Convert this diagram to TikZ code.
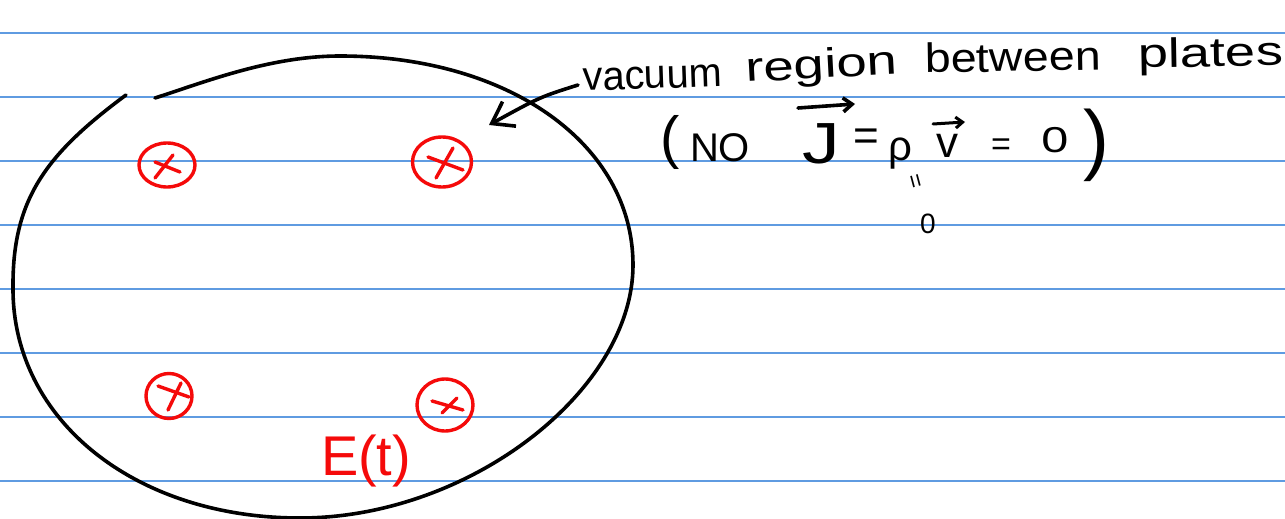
\documentclass[tikz,border=0pt]{standalone}
\usepackage{fontspec}
\setmainfont{Liberation Sans}
\usetikzlibrary{arrows.meta,shapes.geometric,calc}
\definecolor{ruleblue}{RGB}{95,155,225}
\definecolor{redpen}{RGB}{245,10,10}
\newcommand{\hwword}[2]{\resizebox{#1pt}{\height}{#2}}
\tikzset{
  ruleline/.style={draw=ruleblue, line width=1.6pt},
  pen/.style={draw=black, line width=3.6pt, line cap=round, line join=round},
  redstroke/.style={draw=redpen, line width=3.4pt, line cap=round},
  fluxsym/.style={ellipse, draw=redpen, line width=3.4pt, inner sep=0pt},
  hand/.style={font=\fontsize{41}{48}\selectfont, inner sep=0pt, text=black},
  eqtxt/.style={inner sep=0pt, text=black},
  redtxt/.style={inner sep=0pt, text=redpen},
}
\begin{document}
\begin{tikzpicture}[x=1pt,y=-1pt]
\useasboundingbox (0,0) rectangle (1285,519);
\fill[white] (0,0) rectangle (1285,519);
% ruled paper
\foreach \yy in {33,97,161,225,289,353,417,481}
  \draw[ruleline] (0,\yy) -- (1285,\yy);

% the closed curve with a small gap at the upper left
\draw[pen] (126,95) .. controls (45,155) and (12,200) .. (13,289)
  .. controls (13,420) and (135,518) .. (300,518)
  .. controls (470,518) and (633,390) .. (633,265)
  .. controls (633,145) and (510,56) .. (340,56)
  .. controls (270,56) and (205,82) .. (155,98);

% red symbols
\node[fluxsym, minimum width=56pt, minimum height=44pt] (s1) at (167,165) {};
\node[fluxsym, minimum width=59pt, minimum height=50pt] (s2) at (442,162) {};
\node[fluxsym, minimum width=46pt, minimum height=45pt] (s3) at (169,396) {};
\node[fluxsym, minimum width=56pt, minimum height=52pt] (s4) at (445,405) {};
\draw[redstroke] ($(s1)+(6,-10)$) -- ($(s1)+(-12,13)$);
\draw[redstroke] ($(s1)+(-12,-3)$) -- ($(s1)+(13,7)$);
\draw[redstroke] ($(s2)+(11,-14)$) -- ($(s2)+(-6,16)$);
\draw[redstroke] ($(s2)+(-14,-5)$) -- ($(s2)+(21,8)$);
\draw[redstroke] ($(s3)+(12,-13)$) -- ($(s3)+(-1,14)$);
\draw[redstroke] ($(s3)+(-11,-10)$) -- ($(s3)+(20,1)$);
\draw[redstroke] ($(s4)+(12,-7)$) -- ($(s4)+(-3,8)$);
\draw[redstroke] ($(s4)+(-13,-4)$) -- ($(s4)+(18,5)$);

\node[redtxt, font=\fontsize{56}{60}\selectfont] (Et) at (366,461) {\resizebox{90pt}{\height}{E(t)}};

% label and arrow
\node[hand, anchor=base west, rotate=2] (wvac) at (583,91) {\hwword{139}{vacuum}};
\node[hand, anchor=base west, rotate=3] (wreg) at (746,82) {\hwword{152}{region}};
\node[hand, anchor=base west, rotate=1] (wbet) at (925,73) {\hwword{176}{between}};
\node[hand, anchor=base west, rotate=1] (wpla) at (1138,68) {\hwword{145}{plates}};

\coordinate (arrowstart) at (578,85);
\coordinate (arrowtip) at (489,125);
\draw[pen, -{Straight Barb[length=20pt,width=28pt]}] (arrowstart) .. controls (540,97) .. (arrowtip);

% equation
\node[eqtxt, font=\fontsize{58}{60}\selectfont] (lpar) at (670,142) {(};
\node[eqtxt, font=\fontsize{40}{40}\selectfont] (NO) at (720,148) {NO};
\node[eqtxt, font=\fontsize{58}{60}\selectfont] (J) at (821,144) {\scalebox{1.3}[1]{J}};
\coordinate (jarrowL) at (798,108);
\coordinate (jarrowR) at (855,104);
\draw[pen, -{Straight Barb[length=9pt,width=14pt]}] (jarrowL) -- (jarrowR);
\node[eqtxt, font=\fontsize{44}{40}\selectfont] (eq1) at (866,140) {=};
\node[eqtxt, font=\fontsize{42}{40}\selectfont] (rho) at (900,154) {ρ};
\node[eqtxt, font=\fontsize{44}{40}\selectfont] (v) at (947,146) {v};
\coordinate (varrowL) at (933,124);
\coordinate (varrowR) at (965,122);
\draw[pen, line width=3pt, -{Straight Barb[length=7pt,width=11pt]}] (varrowL) -- (varrowR);
\node[eqtxt, font=\fontsize{34}{30}\selectfont] (eq2) at (1001,147) {=};
\node[eqtxt, font=\fontsize{36}{36}\selectfont] (zero) at (1055,140) {\scalebox{1.35}[1]{0}};
\node[eqtxt, font=\fontsize{78}{80}\selectfont] (rpar) at (1096,145) {)};
\node[eqtxt, font=\fontsize{24}{24}\selectfont, rotate=-75] (veq) at (914,182) {=};
\node[eqtxt, font=\fontsize{28}{28}\selectfont] (zero2) at (928,224) {0};
\end{tikzpicture}
\end{document}
